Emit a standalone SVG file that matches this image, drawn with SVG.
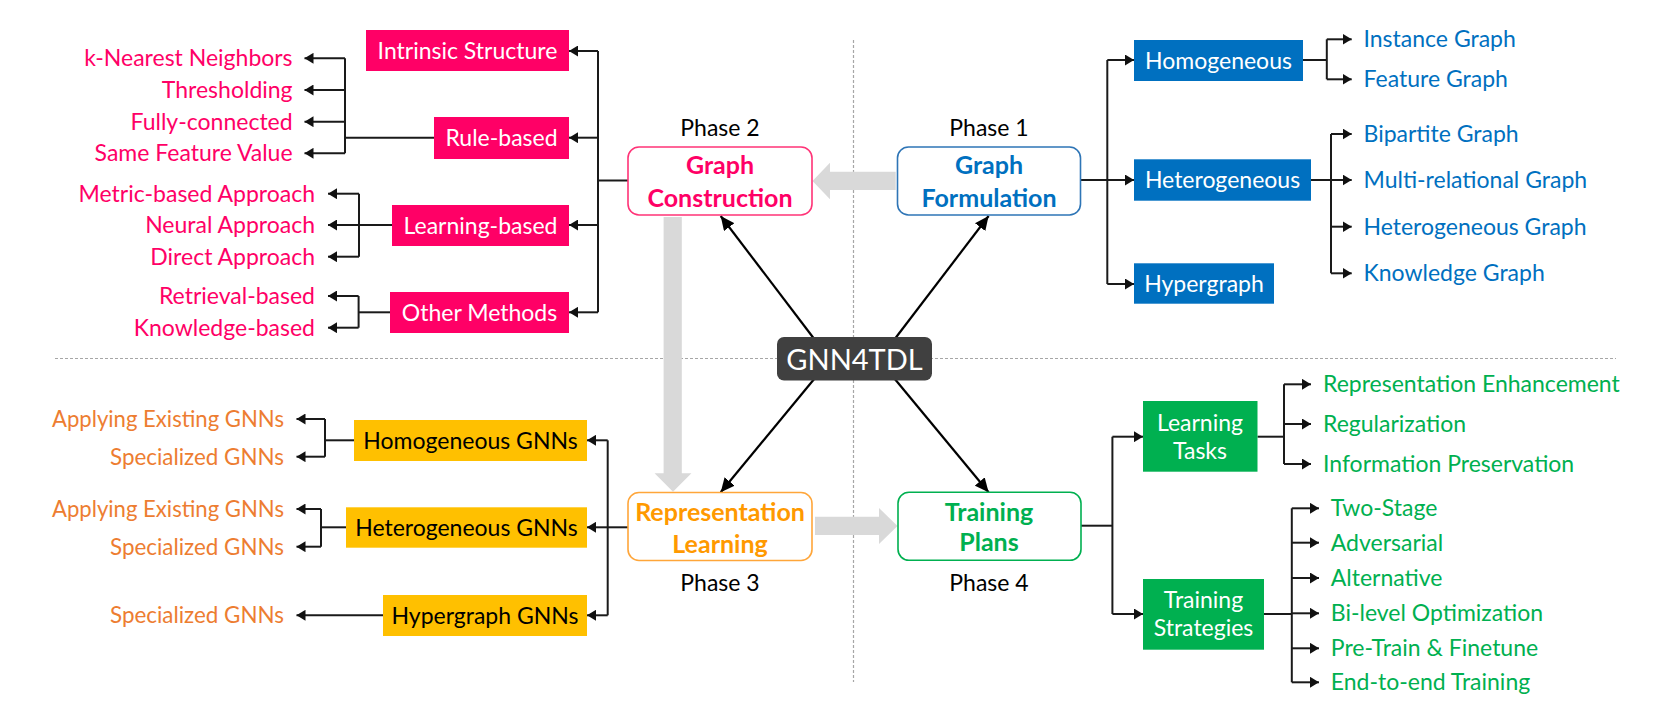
<svg xmlns="http://www.w3.org/2000/svg" width="1678" height="714" viewBox="0 0 1678 714">
<defs>
<marker id="ah" markerUnits="userSpaceOnUse" markerWidth="10" markerHeight="11" refX="9" refY="5.5" orient="auto">
<path d="M0,0 L9,5.5 L0,11 z" fill="#111"/>
</marker>
<marker id="ahb" markerUnits="userSpaceOnUse" markerWidth="15" markerHeight="13" refX="14" refY="6.5" orient="auto">
<path d="M0,0 L14,6.5 L0,13 z" fill="#000"/>
</marker>
<style>
.t{font-family:Lato,"Liberation Sans",sans-serif;font-size:23px}
.b{font-family:Lato,"Liberation Sans",sans-serif;font-size:25px;font-weight:bold}
.c{text-anchor:middle}
.e{text-anchor:end}
.w{fill:#fff}
.k{fill:#000}
.pink{fill:#FF0066}
.blue{fill:#0070C0}
.org{fill:#ED7D31}
.grn{fill:#00B050}
.ln{fill:none;stroke:#1a1a1a;stroke-width:2}
.ar{fill:none;stroke:#1a1a1a;stroke-width:2;marker-end:url(#ah)}
.dg{fill:none;stroke:#000;stroke-width:2.2;marker-end:url(#ahb)}
.dash{fill:none;stroke:#A6A6A6;stroke-width:1.2;stroke-dasharray:3 2}
.gray{fill:#D9D9D9}
</style>
</defs>
<rect width="1678" height="714" fill="#fff"/>
<g id="dividers">
<line class="dash" x1="853.5" y1="40" x2="853.5" y2="682"/>
<line class="dash" x1="55" y1="358.5" x2="1616" y2="358.5"/>
</g>
<g id="connectors">
<polygon class="gray" points="895.7,171.7 830,171.7 830,162.7 812.5,181 830,199.3 830,190 895.7,190"/>
<polygon class="gray" points="663.6,217 681.8,217 681.8,473.3 691.4,473.3 673,491.7 654.6,473.3 663.6,473.3"/>
<polygon class="gray" points="815,516.7 879,516.7 879,508 897.5,526 879,544 879,535 815,535"/>
<line class="dg" x1="815" y1="340" x2="720.7" y2="216"/>
<line class="dg" x1="894" y1="340" x2="988.6" y2="216"/>
<line class="dg" x1="815" y1="378" x2="720.7" y2="492.3"/>
<line class="dg" x1="894" y1="378" x2="988.6" y2="492.3"/>
<!-- phase 2 -->
<line class="ln" x1="628" y1="180.5" x2="598" y2="180.5"/>
<line class="ln" x1="598" y1="51" x2="598" y2="312.3"/>
<line class="ar" x1="598" y1="51" x2="569" y2="51"/>
<line class="ar" x1="598" y1="137.7" x2="569" y2="137.7"/>
<line class="ar" x1="598" y1="225" x2="569" y2="225"/>
<line class="ar" x1="598" y1="312.3" x2="569" y2="312.3"/>
<line class="ln" x1="434" y1="137.7" x2="345" y2="137.7"/>
<line class="ln" x1="345" y1="58.3" x2="345" y2="153.3"/>
<line class="ar" x1="345" y1="58.3" x2="304.5" y2="58.3"/>
<line class="ar" x1="345" y1="90" x2="304.5" y2="90"/>
<line class="ar" x1="345" y1="121.7" x2="304.5" y2="121.7"/>
<line class="ar" x1="345" y1="153.3" x2="304.5" y2="153.3"/>
<line class="ln" x1="392" y1="225" x2="359" y2="225"/>
<line class="ln" x1="359" y1="193.7" x2="359" y2="256.7"/>
<line class="ar" x1="359" y1="193.7" x2="328" y2="193.7"/>
<line class="ar" x1="359" y1="225" x2="328" y2="225"/>
<line class="ar" x1="359" y1="256.7" x2="328" y2="256.7"/>
<line class="ln" x1="390" y1="312.3" x2="358.6" y2="312.3"/>
<line class="ln" x1="358.6" y1="296" x2="358.6" y2="327.7"/>
<line class="ar" x1="358.6" y1="296" x2="328" y2="296"/>
<line class="ar" x1="358.6" y1="327.7" x2="328" y2="327.7"/>
<!-- phase 3 -->
<line class="ln" x1="628" y1="527.3" x2="607.7" y2="527.3"/>
<line class="ln" x1="607.7" y1="440.3" x2="607.7" y2="615.3"/>
<line class="ar" x1="607.7" y1="440.3" x2="587" y2="440.3"/>
<line class="ar" x1="607.7" y1="527.3" x2="587" y2="527.3"/>
<line class="ar" x1="607.7" y1="615.3" x2="587" y2="615.3"/>
<line class="ln" x1="354" y1="440.3" x2="325" y2="440.3"/>
<line class="ln" x1="325" y1="419" x2="325" y2="456.7"/>
<line class="ar" x1="325" y1="419" x2="296.5" y2="419"/>
<line class="ar" x1="325" y1="456.7" x2="296.5" y2="456.7"/>
<line class="ln" x1="346" y1="527.3" x2="321" y2="527.3"/>
<line class="ln" x1="321" y1="509" x2="321" y2="546.7"/>
<line class="ar" x1="321" y1="509" x2="296.5" y2="509"/>
<line class="ar" x1="321" y1="546.7" x2="296.5" y2="546.7"/>
<line class="ar" x1="383" y1="615.3" x2="296.5" y2="615.3"/>
<!-- phase 1 -->
<line class="ln" x1="1081" y1="180" x2="1107.3" y2="180"/>
<line class="ln" x1="1107.3" y1="60" x2="1107.3" y2="284"/>
<line class="ar" x1="1107.3" y1="60" x2="1134" y2="60"/>
<line class="ar" x1="1107.3" y1="180" x2="1134" y2="180"/>
<line class="ar" x1="1107.3" y1="284" x2="1134" y2="284"/>
<line class="ln" x1="1302.8" y1="60" x2="1326.8" y2="60"/>
<line class="ln" x1="1326.8" y1="39.3" x2="1326.8" y2="79.3"/>
<line class="ar" x1="1326.8" y1="39.3" x2="1351.7" y2="39.3"/>
<line class="ar" x1="1326.8" y1="79.3" x2="1351.7" y2="79.3"/>
<line class="ln" x1="1310.7" y1="180" x2="1331" y2="180"/>
<line class="ln" x1="1331" y1="134" x2="1331" y2="273.3"/>
<line class="ar" x1="1331" y1="134" x2="1351.7" y2="134"/>
<line class="ar" x1="1331" y1="180" x2="1351.7" y2="180"/>
<line class="ar" x1="1331" y1="226.7" x2="1351.7" y2="226.7"/>
<line class="ar" x1="1331" y1="273.3" x2="1351.7" y2="273.3"/>
<!-- phase 4 -->
<line class="ln" x1="1081" y1="525.7" x2="1112.4" y2="525.7"/>
<line class="ln" x1="1112.4" y1="436.7" x2="1112.4" y2="614"/>
<line class="ar" x1="1112.4" y1="436.7" x2="1143" y2="436.7"/>
<line class="ar" x1="1112.4" y1="614" x2="1143" y2="614"/>
<line class="ln" x1="1257.5" y1="436.7" x2="1284" y2="436.7"/>
<line class="ln" x1="1284" y1="384.3" x2="1284" y2="464"/>
<line class="ar" x1="1284" y1="384.3" x2="1311" y2="384.3"/>
<line class="ar" x1="1284" y1="424" x2="1311" y2="424"/>
<line class="ar" x1="1284" y1="464" x2="1311" y2="464"/>
<line class="ln" x1="1263.8" y1="614" x2="1291.8" y2="614"/>
<line class="ln" x1="1291.8" y1="508.3" x2="1291.8" y2="682.3"/>
<line class="ar" x1="1291.8" y1="508.3" x2="1319" y2="508.3"/>
<line class="ar" x1="1291.8" y1="542.7" x2="1319" y2="542.7"/>
<line class="ar" x1="1291.8" y1="578" x2="1319" y2="578"/>
<line class="ar" x1="1291.8" y1="613.3" x2="1319" y2="613.3"/>
<line class="ar" x1="1291.8" y1="648.3" x2="1319" y2="648.3"/>
<line class="ar" x1="1291.8" y1="682.3" x2="1319" y2="682.3"/>
</g>
<g id="gnn4tdl">
<rect x="777" y="337" width="155" height="43.5" rx="7" fill="#404040"/>
<text class="t c w" x="854.5" y="369.5" style="font-size:29px">GNN4TDL</text>
</g>
<g id="graph-construction">
<text class="t c k" x="720" y="135.5">Phase 2</text>
<rect x="628" y="147" width="184" height="68" rx="11" fill="#fff" stroke="#FF3377" stroke-width="1.6"/>
<text class="b c pink" x="720" y="174">Graph</text>
<text class="b c pink" x="720" y="206.5">Construction</text>
</g>
<g id="graph-formulation">
<text class="t c k" x="989" y="135.5">Phase 1</text>
<rect x="897.5" y="147" width="183" height="68" rx="11" fill="#fff" stroke="#2E75B6" stroke-width="1.6"/>
<text class="b c blue" x="989" y="174">Graph</text>
<text class="b c blue" x="989" y="206.5">Formulation</text>
</g>
<g id="representation-learning">
<rect x="628" y="492.5" width="184" height="68" rx="11" fill="#fff" stroke="#FFA63A" stroke-width="1.6"/>
<text class="b c" x="720" y="521" fill="#FF9900">Representation</text>
<text class="b c" x="720" y="552.5" fill="#FF9900">Learning</text>
<text class="t c k" x="720" y="590.5">Phase 3</text>
</g>
<g id="training-plans">
<rect x="898" y="492.3" width="183" height="68" rx="11" fill="#fff" stroke="#00B050" stroke-width="1.6"/>
<text class="b c grn" x="989" y="520.5">Training</text>
<text class="b c grn" x="989" y="551">Plans</text>
<text class="t c k" x="989" y="590.5">Phase 4</text>
</g>
<g id="intrinsic-structure">
<rect x="366" y="30" width="203" height="41" fill="#FF0066"/>
<text class="t c w" x="467.5" y="59">Intrinsic Structure</text>
</g>
<g id="rule-based">
<rect x="434" y="117" width="135" height="42" fill="#FF0066"/>
<text class="t c w" x="501.5" y="146">Rule-based</text>
<text class="t e pink" x="292.6" y="66.3">k-Nearest Neighbors</text>
<text class="t e pink" x="292.6" y="98">Thresholding</text>
<text class="t e pink" x="292.6" y="129.7">Fully-connected</text>
<text class="t e pink" x="292.6" y="161.3">Same Feature Value</text>
</g>
<g id="learning-based">
<rect x="392" y="205" width="177" height="41" fill="#FF0066"/>
<text class="t c w" x="480.5" y="233.5">Learning-based</text>
<text class="t e pink" x="315" y="201.7">Metric-based Approach</text>
<text class="t e pink" x="315" y="233">Neural Approach</text>
<text class="t e pink" x="315" y="264.7">Direct Approach</text>
</g>
<g id="other-methods">
<rect x="390" y="292" width="179" height="41" fill="#FF0066"/>
<text class="t c w" x="479.5" y="320.5">Other Methods</text>
<text class="t e pink" x="315" y="304">Retrieval-based</text>
<text class="t e pink" x="315" y="335.7">Knowledge-based</text>
</g>
<g id="homogeneous-gnns">
<rect x="354" y="420" width="233" height="41" fill="#FFC000"/>
<text class="t c k" x="470.5" y="448.5">Homogeneous GNNs</text>
<text class="t e org" x="284" y="427" textLength="232" lengthAdjust="spacingAndGlyphs">Applying Existing GNNs</text>
<text class="t e org" x="284" y="464.7" textLength="174" lengthAdjust="spacingAndGlyphs">Specialized GNNs</text>
</g>
<g id="heterogeneous-gnns">
<rect x="346" y="507.3" width="241" height="40.4" fill="#FFC000"/>
<text class="t c k" x="466.5" y="535.5">Heterogeneous GNNs</text>
<text class="t e org" x="284" y="517" textLength="232" lengthAdjust="spacingAndGlyphs">Applying Existing GNNs</text>
<text class="t e org" x="284" y="554.7" textLength="174" lengthAdjust="spacingAndGlyphs">Specialized GNNs</text>
</g>
<g id="hypergraph-gnns">
<rect x="383" y="595" width="204" height="41" fill="#FFC000"/>
<text class="t c k" x="485" y="623.5">Hypergraph GNNs</text>
<text class="t e org" x="284" y="623.3" textLength="174" lengthAdjust="spacingAndGlyphs">Specialized GNNs</text>
</g>
<g id="homogeneous">
<rect x="1134" y="40" width="169" height="41" fill="#0070C0"/>
<text class="t c w" x="1218.5" y="68.5">Homogeneous</text>
<text class="t blue" x="1363.5" y="47.3">Instance Graph</text>
<text class="t blue" x="1363.5" y="87.3">Feature Graph</text>
</g>
<g id="heterogeneous">
<rect x="1134" y="159.3" width="177" height="41.4" fill="#0070C0"/>
<text class="t c w" x="1222.5" y="188">Heterogeneous</text>
<text class="t blue" x="1363.5" y="142">Bipartite Graph</text>
<text class="t blue" x="1363.5" y="188">Multi-relational Graph</text>
<text class="t blue" x="1363.5" y="234.7">Heterogeneous Graph</text>
<text class="t blue" x="1363.5" y="281.3">Knowledge Graph</text>
</g>
<g id="hypergraph">
<rect x="1134" y="263.3" width="140" height="40.4" fill="#0070C0"/>
<text class="t c w" x="1204" y="292">Hypergraph</text>
</g>
<g id="learning-tasks">
<rect x="1143" y="401" width="114.5" height="70.7" fill="#00B050"/>
<text class="t c w" x="1200" y="430.7">Learning</text>
<text class="t c w" x="1200" y="459">Tasks</text>
<text class="t grn" x="1323" y="392.3">Representation Enhancement</text>
<text class="t grn" x="1323" y="432">Regularization</text>
<text class="t grn" x="1323" y="472">Information Preservation</text>
</g>
<g id="training-strategies">
<rect x="1143" y="579" width="121" height="70.7" fill="#00B050"/>
<text class="t c w" x="1203.5" y="607.7">Training</text>
<text class="t c w" x="1203.5" y="636">Strategies</text>
<text class="t grn" x="1330.8" y="516.3">Two-Stage</text>
<text class="t grn" x="1330.8" y="550.7">Adversarial</text>
<text class="t grn" x="1330.8" y="586">Alternative</text>
<text class="t grn" x="1330.8" y="621.3">Bi-level Optimization</text>
<text class="t grn" x="1330.8" y="656.3">Pre-Train &amp; Finetune</text>
<text class="t grn" x="1330.8" y="690.3">End-to-end Training</text>
</g>
</svg>
